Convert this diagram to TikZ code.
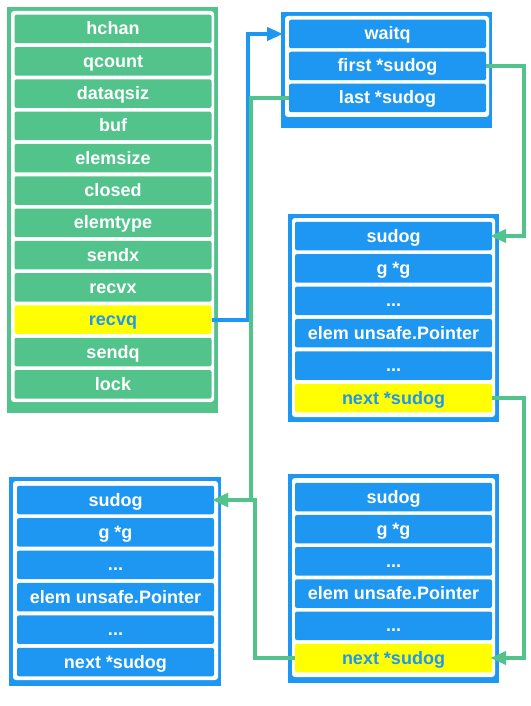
\documentclass[tikz,border=0pt]{standalone}
\usepackage{fontspec}
\setmainfont{Liberation Sans}
\usetikzlibrary{arrows.meta,positioning}
\definecolor{hgreen}{RGB}{82,196,139}
\definecolor{sblue}{RGB}{30,151,243}
\definecolor{hyellow}{RGB}{255,255,0}
\newcommand{\restdots}{...}
\tikzstyle{box} = [anchor=north west, inner sep=0pt, draw=none]
\tikzstyle{gbox} = [box, fill=hgreen]
\tikzstyle{bbox} = [box, fill=sblue]
\tikzstyle{frame} = [fill=white, rounded corners=3]
\tikzstyle{cell} = [minimum width=197, minimum height=28.5, inner sep=0pt, text height=16, text depth=4, rounded corners=2, text=white, font=\fontsize{18}{20}\selectfont\bfseries]
\tikzstyle{gcell} = [cell, fill=hgreen]
\tikzstyle{bcell} = [cell, fill=sblue]
\tikzstyle{ycell} = [cell, fill=hyellow, text=sblue]
\tikzstyle{link} = [line width=4, -{Triangle[length=16,width=13]}, shorten >=-2, color=hgreen]
\tikzstyle{blink} = [link, color=sblue]

\begin{document}
\begin{tikzpicture}[x=1pt, y=-1pt]
\useasboundingbox (0,0) rectangle (530,706);
% hchan
\node[gbox, minimum width=211, minimum height=406] (hchan) at (7,7) {};
\fill[frame] (11,11) rectangle (214,402);
\foreach \f/\s [count=\i] in {hchan/gcell, qcount/gcell, dataqsiz/gcell, buf/gcell, elemsize/gcell, closed/gcell, elemtype/gcell, sendx/gcell, recvx/gcell, recvq/ycell, sendq/gcell, lock/gcell}
  \node[\s] (h\i) at (113, {29+32.3*(\i-1)}) {\f};

% waitq
\node[bbox, minimum width=211, minimum height=116] (waitq) at (281,12) {};
\fill[frame] (285,16) rectangle (489,117);
\foreach \f [count=\i] in {waitq, first *sudog, last *sudog}
  \node[bcell] (w\i) at (387.5, {34+32*(\i-1)}) {\f};

% sudog a
\node[bbox, minimum width=211, minimum height=208] (sudoga) at (288,214) {};
\fill[frame] (292,218) rectangle (495,417);
\foreach \f/\s [count=\i] in {sudog/bcell, g *g/bcell, \restdots/bcell, elem unsafe.Pointer/bcell, \restdots/bcell, next *sudog/ycell}
  \node[\s] (a\i) at (393.5, {236+32.4*(\i-1)}) {\f};

% sudog b
\node[bbox, minimum width=211, minimum height=209] (sudogb) at (288,474) {};
\fill[frame] (292,478) rectangle (495,677);
\foreach \f/\s [count=\i] in {sudog/bcell, g *g/bcell, \restdots/bcell, elem unsafe.Pointer/bcell, \restdots/bcell, next *sudog/ycell}
  \node[\s] (b\i) at (393.5, {497+32.2*(\i-1)}) {\f};

% sudog c
\node[bbox, minimum width=212, minimum height=209] (sudogc) at (9,477) {};
\fill[frame] (13,481) rectangle (218,680);
\foreach \f [count=\i] in {sudog, g *g, \restdots, elem unsafe.Pointer, \restdots, next *sudog}
  \node[bcell] (c\i) at (115.5, {500+32.4*(\i-1)}) {\f};

% links
\draw[blink] (h10.east) -- ++(36.5,0) |- (waitq.west |- w1);
\draw[link] (w2.east) -- ++(38,0) |- (a1.east);
\draw[link] (w3.west) -- ++(-38,0) |- (c1.east);
\draw[link] (a6.east) -- ++(32,0) |- (b6.east);
\draw[link] (b6.west) -- ++(-40,0) |- (c1.east);
\end{tikzpicture}
\end{document}
